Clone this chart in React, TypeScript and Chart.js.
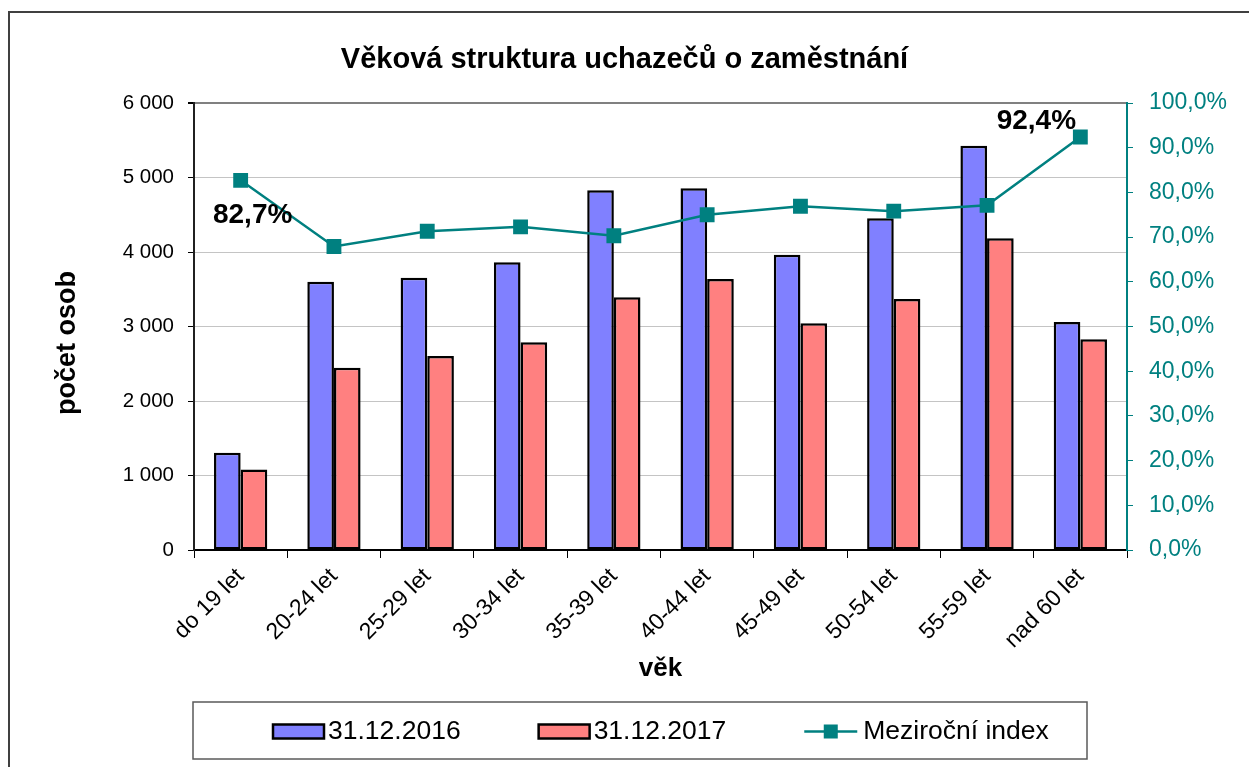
import React, { useEffect, useRef } from 'react';
import { Chart, registerables } from 'chart.js';

Chart.register(...registerables);

const categories = ['do 19 let', '20-24 let', '25-29 let', '30-34 let', '35-39 let', '40-44 let', '45-49 let', '50-54 let', '55-59 let', 'nad 60 let'];
const values2016 = [1306, 3601, 3655, 3861, 4828, 4855, 3964, 4452, 5427, 3060];
const values2017 = [1080, 2447, 2604, 2788, 3391, 3637, 3043, 3369, 4184, 2828];
const indexValues = [82.7, 67.9, 71.3, 72.3, 70.3, 75.0, 76.9, 75.8, 77.1, 92.4];
const leftTickLabels = ['0', '1 000', '2 000', '3 000', '4 000', '5 000', '6 000'];
const rightTickLabels = ['0,0%', '10,0%', '20,0%', '30,0%', '40,0%', '50,0%', '60,0%', '70,0%', '80,0%', '90,0%', '100,0%'];
const seriesLabels = ['31.12.2016', '31.12.2017', 'Meziroční index'];
const labelledPoints = [0, 9];

const FONT = "'Liberation Sans', Arial, sans-serif";
const BLUE = '#8080FF';
const RED = '#FF8080';
const TEAL = '#008080';

const decorPlugin = {
  id: 'decor',
  beforeDraw(chart: any) {
    const ctx = chart.ctx;
    ctx.save();
    ctx.fillStyle = '#ffffff';
    ctx.fillRect(0, 0, chart.width, chart.height);
    ctx.strokeStyle = '#404040';
    ctx.lineWidth = 2;
    ctx.strokeRect(9, 12, chart.width + 20, chart.height + 20);
    ctx.restore();
  },
  afterDraw(chart: any, _args: any, opts: any) {
    const ctx = chart.ctx;
    ctx.save();
    // y axis title
    ctx.translate(opts.yTitle.x, opts.yTitle.y);
    ctx.rotate(-Math.PI / 2);
    ctx.font = `bold ${opts.yTitle.size}px ${FONT}`;
    ctx.fillStyle = '#000';
    ctx.textAlign = 'center';
    ctx.textBaseline = 'middle';
    ctx.fillText(opts.yTitle.text, 0, 0);
    ctx.restore();

    // data labels on the index line
    const meta = chart.getDatasetMeta(2);
    ctx.save();
    ctx.font = `bold 28px ${FONT}`;
    ctx.fillStyle = '#000';
    ctx.textAlign = 'center';
    ctx.textBaseline = 'middle';
    labelledPoints.forEach((idx, k) => {
      const pt = meta.data[idx];
      const off = opts.labelOffsets[k];
      const txt = indexValues[idx].toFixed(1).replace('.', ',') + '%';
      ctx.fillText(txt, pt.x + off[0], pt.y + off[1]);
    });
    ctx.restore();

    // legend
    const lg = opts.legend;
    ctx.save();
    ctx.strokeStyle = '#5a5a5a';
    ctx.lineWidth = 1.5;
    ctx.strokeRect(lg.left, lg.top, lg.width, lg.height);
    ctx.font = `${lg.fontSize}px ${FONT}`;
    ctx.textBaseline = 'middle';
    ctx.textAlign = 'left';
    let x = lg.startX;
    const cy = lg.top + lg.height / 2 + 1;
    chart.data.datasets.forEach((ds: any) => {
      if (ds.type === 'line') {
        ctx.strokeStyle = ds.borderColor;
        ctx.lineWidth = 2.5;
        ctx.beginPath();
        ctx.moveTo(x, cy);
        ctx.lineTo(x + 53, cy);
        ctx.stroke();
        ctx.fillStyle = ds.backgroundColor;
        ctx.fillRect(x + 26.5 - 7, cy - 7, 14, 14);
        x += 59;
      } else {
        ctx.fillStyle = ds.backgroundColor;
        ctx.fillRect(x, cy - 7, 51, 14);
        ctx.strokeStyle = '#000';
        ctx.lineWidth = 2.5;
        ctx.strokeRect(x, cy - 7, 51, 14);
        x += 55;
      }
      ctx.fillStyle = '#000';
      ctx.fillText(ds.label, x, cy);
      x += ctx.measureText(ds.label).width + lg.spacing;
    });
    ctx.restore();
  },
};

export default function App() {
  const ref = useRef<HTMLCanvasElement | null>(null);
  useEffect(() => {
    if (!ref.current) return;
    const chart = new Chart(ref.current, {
      type: 'bar',
      data: {
        labels: categories,
        datasets: [
          {
            type: 'bar',
            label: seriesLabels[0],
            data: values2016,
            backgroundColor: BLUE,
            borderColor: '#000',
            borderWidth: 2.5,
            borderSkipped: false,
            yAxisID: 'y',
            order: 1,
            categoryPercentage: 0.571,
            barPercentage: 1,
          } as any,
          {
            type: 'bar',
            label: seriesLabels[1],
            data: values2017,
            backgroundColor: RED,
            borderColor: '#000',
            borderWidth: 2.5,
            borderSkipped: false,
            yAxisID: 'y',
            order: 1,
            categoryPercentage: 0.571,
            barPercentage: 1,
          } as any,
          {
            type: 'line',
            label: seriesLabels[2],
            data: indexValues,
            borderColor: TEAL,
            backgroundColor: TEAL,
            borderWidth: 2.5,
            pointStyle: 'rect',
            pointRadius: 10.5,
            pointBorderWidth: 0,
            pointBackgroundColor: TEAL,
            yAxisID: 'y1',
            order: 0,
            tension: 0,
          } as any,
        ],
      },
      options: {
        animation: false,
        responsive: true,
        maintainAspectRatio: false,
        events: [],
        layout: { padding: { top: 0, left: 0, right: 0, bottom: 77 } },
        plugins: {
          legend: { display: false },
          tooltip: { enabled: false },
          title: {
            display: true,
            text: 'Věková struktura uchazečů o zaměstnání',
            color: '#000',
            font: { family: FONT, size: 29, weight: 'bold' },
            padding: { top: 42.6, bottom: 25.6 },
          },
          decor: {
            yTitle: { text: 'počet osob', x: 68, y: 343, size: 27 },
            labelOffsets: [[12, 35], [-44, -16]],
            legend: { left: 193, top: 702, width: 894, height: 57, startX: 273, spacing: 78, fontSize: 26.5 },
          },
        } as any,
        scales: {
          x: {
            type: 'category',
            offset: true,
            afterFit: (s: any) => { s.height = 140; },
            grid: { display: true, drawOnChartArea: false, drawTicks: true, tickLength: 8, tickColor: '#000', offset: true },
            border: { display: true, color: '#000', width: 2 },
            ticks: {
              color: '#000',
              font: { family: FONT, size: 23 },
              maxRotation: 45,
              minRotation: 45,
              autoSkip: false,
              padding: 5,
            },
            title: {
              display: true,
              text: 'věk',
              color: '#000',
              font: { family: FONT, size: 26, weight: 'bold' },
              padding: { top: 0, bottom: 6 },
            },
          },
          y: {
            type: 'linear',
            position: 'left',
            min: 0,
            max: 6000,
            afterFit: (s: any) => { s.width = 194; },
            grid: {
              color: (c: any) => (c.tick && c.tick.value === 6000 ? '#808080' : '#c4c4c4'),
              lineWidth: (c: any) => (c.tick && c.tick.value === 6000 ? 2 : 1),
              tickLength: 6,
              tickColor: '#000',
            },
            border: { display: true, color: '#202020', width: 2 },
            ticks: {
              stepSize: 1000,
              color: '#000',
              font: { family: FONT, size: 20.5 },
              padding: 14,
              callback: (_v: any, i: number) => leftTickLabels[i],
            },
          },
          y1: {
            type: 'linear',
            position: 'right',
            min: 0,
            max: 100,
            afterFit: (s: any) => { s.width = 122; },
            grid: { drawOnChartArea: false, drawTicks: true, tickLength: 6, tickColor: TEAL },
            border: { display: true, color: TEAL, width: 2 },
            ticks: {
              stepSize: 10,
              color: TEAL,
              font: { family: FONT, size: 23 },
              padding: 16,
              callback: (_v: any, i: number) => rightTickLabels[i],
            },
          },
        },
      },
      plugins: [decorPlugin],
    });
    return () => chart.destroy();
  }, []);

  return (
    <div style={{ position: 'absolute', left: 0, top: 0, width: 1249, height: 767 }}>
      <canvas ref={ref} />
    </div>
  );
}
